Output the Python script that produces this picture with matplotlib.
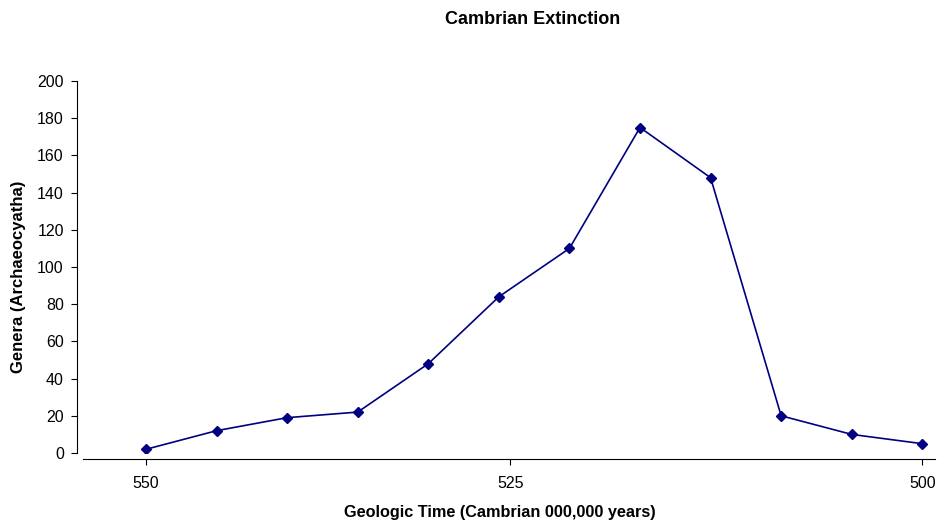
import matplotlib
matplotlib.use("Agg")
import matplotlib.pyplot as plt

plt.rcParams['font.family'] = ['Liberation Sans', 'DejaVu Sans']

# genera counts per sample interval, oldest to youngest
genera = [2, 12, 19, 22, 48, 84, 110, 175, 148, 20, 10, 5]
tick_pos = [0, 5.16, 11]
tick_labels = ['550', '525', '500']
y_ticks = [0, 20, 40, 60, 80, 100, 120, 140, 160, 180, 200]

W, H = 939, 521
fig = plt.figure(figsize=(W / 100, H / 100), dpi=100)
ax = fig.add_axes([83 / W, 1 - 453 / H, (935 - 83) / W, (453 - 81) / H])

x = list(range(len(genera)))
ax.plot(x, genera, color='#000080', linewidth=1.2, marker='D',
        markersize=5.5, markerfacecolor='#000080', markeredgecolor='#000080')

ax.set_ylim(0, 200)
ax.set_xlim(-0.893, 11.18)
ax.set_yticks(y_ticks)
ax.set_xticks(tick_pos)
ax.set_xticklabels(tick_labels)

for side in ('top', 'right'):
    ax.spines[side].set_visible(False)
ax.spines['left'].set_position(('outward', 4.3))
ax.spines['bottom'].set_position(('outward', 4.3))
ax.spines['left'].set_linewidth(0.8)
ax.spines['bottom'].set_linewidth(0.8)
ax.tick_params(axis='both', direction='out', length=4.5, width=0.8,
               colors='black', labelsize=11.5)
ax.tick_params(axis='x', pad=8)
ax.tick_params(axis='y', pad=5)

fig.text(533 / W, 1 - 20 / H, 'Cambrian Extinction', ha='center', va='center',
         fontsize=13, fontweight='bold')
fig.text(500 / W, 1 - 512 / H, 'Geologic Time (Cambrian 000,000 years)',
         ha='center', va='center', fontsize=11.7, fontweight='bold')
fig.text(19 / W, 1 - 277 / H, 'Genera (Archaeocyatha)', ha='center',
         va='center', rotation=90, fontsize=12, fontweight='bold')

fig.savefig('out.png', dpi=100)
